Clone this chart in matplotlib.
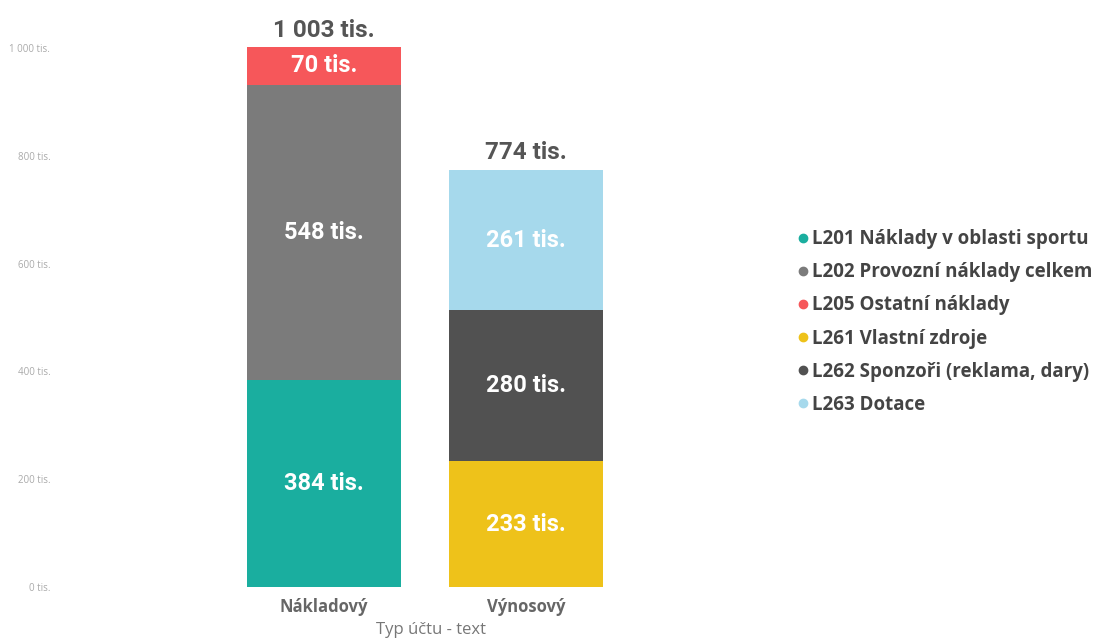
import matplotlib.pyplot as plt
from matplotlib.lines import Line2D

categories = ["Nákladový", "Výnosový"]

# series: (name, colour, values per category)
series_names = [
    "L201 Náklady v oblasti sportu",
    "L202 Provozní náklady celkem",
    "L205 Ostatní náklady",
    "L261 Vlastní zdroje",
    "L262 Sponzoři (reklama, dary)",
    "L263 Dotace",
]
series_colors = ["#1AAE9F", "#7B7B7B", "#F6575A", "#EEC21A", "#515151", "#A6D9EC"]
series_values = [
    [384, 0],
    [548, 0],
    [70, 0],
    [0, 233],
    [0, 280],
    [0, 261],
]
totals = [1003, 774]
yticks = [0, 200, 400, 600, 800, 1000]
ytick_labels = ["0 tis.", "200 tis.", "400 tis.", "600 tis.", "800 tis.", "1 000 tis."]

W, H = 1101, 639
fig = plt.figure(figsize=(W / 100, H / 100), dpi=100)
fig.set_facecolor("white")
ax = fig.add_axes([60 / W, (H - 587) / H, 680 / W, 587 / H])

x = list(range(len(categories)))
bottoms = [0] * len(categories)
for name, col, vals in zip(series_names, series_colors, series_values):
    bars = ax.bar(x, vals, width=0.76, bottom=bottoms, color=col, label=name)
    for i, (b, v) in enumerate(zip(bottoms, vals)):
        if v > 0:
            ax.text(i, b + v / 2, f"{v} tis.", ha="center", va="center",
                    color="white", fontsize=17, fontweight="bold", family="Roboto")
    bottoms = [b + v for b, v in zip(bottoms, vals)]

for i, t in enumerate(totals):
    s = f"{t:,}".replace(",", " ") + " tis."
    ax.text(i, bottoms[i] + 10, s, ha="center", va="bottom", color="#555555",
            fontsize=17.5, fontweight="bold", family="Roboto")

ax.set_xlim(-1.307, 2.06)
ax.set_ylim(0, 1089)
ax.set_yticks(yticks)
ax.set_yticklabels(ytick_labels, fontsize=7, color="#AAAAAA", family="Open Sans")
ax.tick_params(axis="y", length=0, pad=7)
ax.set_xticks(x)
ax.set_xticklabels(categories, fontsize=12, color="#666666", fontweight="bold",
                   family="Open Sans")
ax.tick_params(axis="x", length=0, pad=8)
ax.set_xlabel("Typ účtu - text", fontsize=12, color="#777777", family="Open Sans")
ax.xaxis.set_label_coords((431 - 60) / 680, -(622 - 587) / 587)
for sp in ax.spines.values():
    sp.set_visible(False)

handles = [Line2D([], [], marker="o", linestyle="none", markersize=6,
                  markerfacecolor=c, markeredgecolor=c) for c in series_colors]
leg = fig.legend(handles, series_names, loc="center left",
                 bbox_to_anchor=(780 / W, 1 - 322 / H), frameon=False,
                 handlelength=0.6, handletextpad=0.2, labelspacing=0.7,
                 prop={"family": "Open Sans", "weight": "bold", "size": 13.5})
for t in leg.get_texts():
    t.set_color("#444444")

fig.savefig("out.png", dpi=100, facecolor="white")
